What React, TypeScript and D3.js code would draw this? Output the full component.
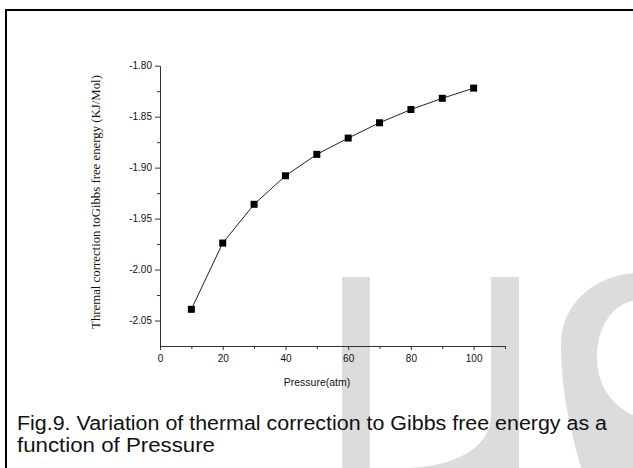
import React, { useEffect, useRef } from "react";
import * as d3 from "d3";

// values
const pressure = [10, 20, 30, 40, 50, 60, 70, 80, 90, 100];
const gibbs = [-2.039, -1.974, -1.936, -1.908, -1.887, -1.871, -1.856, -1.843, -1.832, -1.822];
const xMajor = [0, 20, 40, 60, 80, 100];
const xMinor = [10, 30, 50, 70, 90, 110];
const yMajor = [-1.8, -1.85, -1.9, -1.95, -2.0, -2.05];
const yMinor = [-1.825, -1.875, -1.925, -1.975, -2.025];
const captionLines = [
  "Fig.9. Variation of thermal correction to Gibbs free energy as a",
  "function of Pressure",
];

function App() {
  const ref = useRef<SVGSVGElement>(null);

  useEffect(() => {
    const svg = d3.select(ref.current);
    svg.selectAll("*").remove();

    const width = 633;
    const height = 468;
    svg.attr("width", width).attr("height", height);

    const x = d3.scaleLinear().domain([0, 110]).range([160, 505]);
    const y = d3.scaleLinear().domain([-2.075, -1.8]).range([346, 65.7]);

    const wm = "#dcdcdc";

    // watermark "IJS"
    svg.append("rect")
      .attr("x", 342).attr("y", 277)
      .attr("width", 28).attr("height", height - 277)
      .attr("fill", wm);
    svg.append("path")
      .attr("d", "M491,277 H519 V468 H404 C445,468 491,452 491,415 Z")
      .attr("fill", wm);
    svg.append("path")
      .attr("d",
        "M640,273 C600,273 561,300 561,345 C561,395 572,435 581,468 L640,468 Z " +
        "M640,300 C615,300 597,325 597,357 C597,385 612,408 640,418 Z")
      .attr("fill", wm)
      .attr("fill-rule", "evenodd");

    // page frame (top and left edges)
    svg.append("path")
      .attr("d", `M6,${height} V10 H${width}`)
      .attr("fill", "none")
      .attr("stroke", "#000")
      .attr("stroke-width", 2);

    const axisColor = "#333";
    const tickFont = "'Liberation Sans', Arial, sans-serif";

    // x axis
    const gx = svg.append("g")
      .attr("transform", "translate(0,346)")
      .call(d3.axisBottom(x).tickValues(xMajor).tickSize(4).tickSizeOuter(0).tickPadding(5)
        .tickFormat(d => String(d)));
    svg.append("g")
      .attr("transform", "translate(0,346)")
      .call(d3.axisBottom(x).tickValues(xMinor).tickSize(3).tickSizeOuter(0).tickFormat(() => ""))
      .call(g => g.select(".domain").remove());

    // y axis
    const gy = svg.append("g")
      .attr("transform", "translate(160,0)")
      .call(d3.axisLeft(y).tickValues(yMajor).tickSize(5).tickSizeOuter(0).tickPadding(3)
        .tickFormat(d => (d as number).toFixed(2)));
    svg.append("g")
      .attr("transform", "translate(160,0)")
      .call(d3.axisLeft(y).tickValues(yMinor).tickSize(3).tickSizeOuter(0).tickFormat(() => ""))
      .call(g => g.select(".domain").remove());

    svg.selectAll(".domain, .tick line").attr("stroke", axisColor);
    [gx, gy].forEach(g => g.attr("font-family", tickFont).attr("font-size", 10));
    svg.selectAll(".tick text").attr("fill", "#111");

    // axis titles
    svg.append("text")
      .attr("x", 317)
      .attr("y", 386)
      .attr("text-anchor", "middle")
      .attr("font-family", tickFont)
      .attr("font-size", 10.5)
      .attr("fill", "#111")
      .text("Pressure(atm)");

    svg.append("text")
      .attr("transform", "translate(99.5,202) rotate(-90)")
      .attr("text-anchor", "middle")
      .attr("font-family", "'Liberation Serif', 'Times New Roman', serif")
      .attr("font-size", 12.8)
      .attr("fill", "#111")
      .text("Thremal correction toGibbs free energy (KJ/Mol)");

    // series line + square markers
    const pts = pressure.map((p, i) => [p, gibbs[i]] as [number, number]);
    const line = d3.line<[number, number]>()
      .x(d => x(d[0]))
      .y(d => y(d[1]));

    svg.append("path")
      .datum(pts)
      .attr("fill", "none")
      .attr("stroke", "#222")
      .attr("stroke-width", 1)
      .attr("d", line);

    svg.selectAll("rect.pt")
      .data(pts)
      .enter()
      .append("rect")
      .attr("class", "pt")
      .attr("x", d => x(d[0]) - 3.5)
      .attr("y", d => y(d[1]) - 3.5)
      .attr("width", 7)
      .attr("height", 7)
      .attr("fill", "#000");

    // caption
    const capLen = [590, 198];
    svg.append("g")
      .selectAll("text")
      .data(captionLines)
      .enter()
      .append("text")
      .attr("x", 17)
      .attr("y", (_, i) => 430 + i * 22.3)
      .attr("font-family", tickFont)
      .attr("font-size", 20)
      .attr("fill", "#111")
      .attr("textLength", (_, i) => capLen[i])
      .attr("lengthAdjust", "spacingAndGlyphs")
      .text(d => d);
  }, []);

  return (
    <svg ref={ref} style={{ position: "fixed", left: 0, top: 0, background: "#fff" }}></svg>
  );
}

export default App;
